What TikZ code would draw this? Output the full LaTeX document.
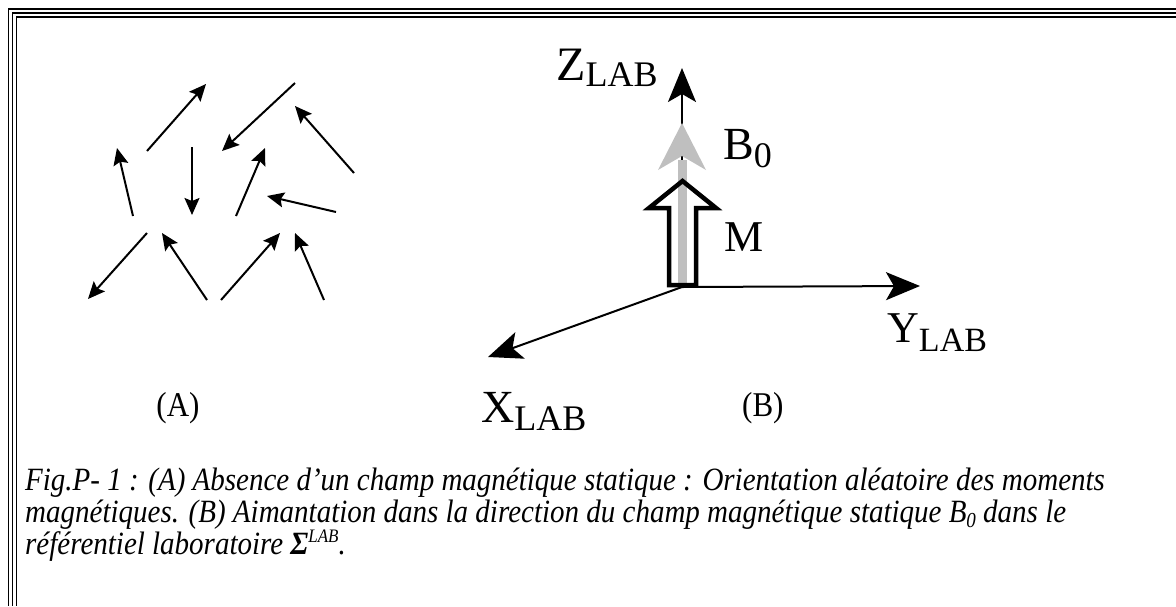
\documentclass[tikz,border=0pt]{standalone}
\usepackage{fontspec}
\setmainfont{Liberation Serif}
\usetikzlibrary{arrows.meta}
\newcommand{\vstretch}[1]{\scalebox{1}[1.12]{#1}}
\begin{document}
\begin{tikzpicture}[x=1pt,y=-1pt,
  border/.style={line width=1.7pt},
  smallarrow/.style={-{Stealth[length=17pt,width=15pt,inset=3pt]}, line width=2pt},
  axisarrow/.style={-{Stealth[length=34pt,width=28pt,inset=8pt]}, line width=2pt},
  bigtxt/.style={inner sep=0pt, anchor=base west, font=\fontsize{46}{46}\selectfont},
  midtxt/.style={inner sep=0pt, anchor=base, font=\fontsize{31}{31}\selectfont},
  captxt/.style={inner sep=0pt, anchor=base west, font=\fontsize{29}{30}\selectfont\itshape},
  grayc/.style={black!25},
  blockline/.style={line width=4.5pt, line join=miter}
]
\useasboundingbox (0,0) rectangle (1176,606);
% triple border (top and left)
\foreach \d in {8.5,12.5,16.5}{
  \draw[border] (1176,\d+0.8) -- (\d,\d+0.8) -- (\d,606);
}
% (A) random moments
\foreach \i/\xa/\ya/\xb/\yb in {
  1/147/151/206/84, 2/295/83/222/151, 3/354/173/295/106,
  4/133/216/117/148, 5/192/147/192/215, 6/236/216/265/148,
  7/336/212/267/196, 8/147/233/88/299, 9/207/300/162/233,
  10/221/300/280/233, 11/324/300/295/233}{
  \coordinate (s\i) at (\xa,\ya);
  \coordinate (e\i) at (\xb,\yb);
  \draw[smallarrow] (s\i) -- (e\i);
}
\node[midtxt] (labA) at (178,416) {\vstretch{(A)}};
% (B) laboratory frame
\coordinate (O) at (682,287);
\coordinate (Ztip) at (682,68);
\coordinate (Ytip) at (920,286);
\coordinate (Xtip) at (488,357);
\draw[axisarrow] (O) -- (Ytip);
\draw[axisarrow] (O) -- (Xtip);
\draw[axisarrow] (O) -- (Ztip);
% block arrow M (fill)
\fill[white] (669,285) -- (669,208) -- (649,208) -- (682.5,181) -- (716,208) -- (696,208) -- (696,285) -- cycle;
% gray B0 arrow
\coordinate (Gbot) at (682,284);
\coordinate (Gneck) at (682,160);
\draw[grayc, line width=9pt] (Gbot) -- (Gneck);
\fill[grayc] (682,123) -- (706,170) -- (682,156) -- (658,170) -- cycle;
% block arrow M outline
\draw[blockline] (669,285) -- (669,208) -- (649,208) -- (682.5,181) -- (716,208) -- (696,208) -- (696,285) -- cycle;
% labels
\node[bigtxt, font=\fontsize{48}{48}\selectfont] (zl) at (556,80) {Z\raisebox{-6pt}{\fontsize{36}{36}\selectfont LAB}};
\node[bigtxt] (b0) at (723,159) {B\raisebox{-8pt}{\fontsize{36}{36}\selectfont 0}};
\node[bigtxt, font=\fontsize{44}{44}\selectfont] (ml) at (724,251) {M};
\node[bigtxt, font=\fontsize{44}{44}\selectfont] (yl) at (887,342) {Y\raisebox{-9pt}{\fontsize{34}{34}\selectfont LAB}};
\node[bigtxt] (xl) at (481,422) {X\raisebox{-8pt}{\fontsize{36}{36}\selectfont LAB}};
\node[midtxt, anchor=base west] (labB) at (742,416) {\vstretch{(B)}};
% caption
\node[captxt] (c1) at (25,490) {\vstretch{Fig.P- 1 : (A) Absence d’un champ magnétique statique : Orientation aléatoire des moments}};
\node[captxt] (c2) at (25,522) {\vstretch{magnétiques. (B) Aimantation dans la direction du champ magnétique statique B\raisebox{-5pt}{\fontsize{19}{19}\selectfont 0} dans le}};
\node[captxt] (c3) at (25,554) {\vstretch{référentiel laboratoire \textbf{Σ}\raisebox{10pt}{\fontsize{17}{17}\selectfont LAB}.}};
\end{tikzpicture}
\end{document}
